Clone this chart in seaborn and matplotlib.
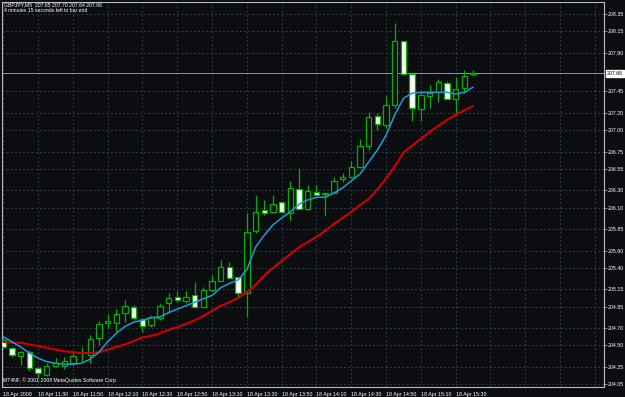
import numpy as np
import pandas as pd
import seaborn as sns
import matplotlib
matplotlib.use("Agg")
import matplotlib.pyplot as plt

# header / footer texts of the terminal window
symbol_text = "GBPJPY,M5  207.65 207.70 207.64 207.66"
timer_text = "4 minutes 15 seconds left to bar end"
copyright_text = "MT4NF, \u00a9 2001-2008 MetaQuotes Software Corp."

# M5 candles
opens = [204.56, 204.47, 204.38, 204.42, 204.24, 204.15, 204.26, 204.26, 204.29, 204.41,
         204.39, 204.59, 204.76, 204.76, 204.88, 204.94, 204.81, 204.74, 204.82, 204.99,
         205.06, 205.01, 205.08, 204.94, 205.14, 205.25, 205.41, 205.29, 205.11, 205.83,
         206.07, 206.05, 206.17, 206.04, 206.32, 206.08, 206.28, 206.26, 206.27, 206.43,
         206.46, 206.57, 206.82, 207.16, 207.06, 207.29, 208.04, 207.65, 207.25, 207.40,
         207.44, 207.55, 207.36, 207.49, 207.65]
highs = [204.59, 204.48, 204.43, 204.45, 204.25, 204.29, 204.35, 204.36, 204.41, 204.48,
         204.62, 204.78, 204.86, 204.92, 205.03, 204.97, 204.82, 204.85, 204.99, 205.11,
         205.13, 205.13, 205.24, 205.18, 205.32, 205.49, 205.47, 205.29, 206.04, 206.25,
         206.19, 206.25, 206.17, 206.41, 206.56, 206.36, 206.36, 206.27, 206.46, 206.50,
         206.64, 206.90, 207.21, 207.20, 207.40, 208.25, 208.04, 207.65, 207.44, 207.53,
         207.59, 207.57, 207.62, 207.70, 207.70]
lows = [204.46, 204.36, 204.27, 204.20, 204.12, 204.14, 204.25, 204.22, 204.28, 204.31,
        204.29, 204.50, 204.70, 204.65, 204.77, 204.79, 204.65, 204.71, 204.79, 204.88,
        205.00, 204.99, 204.93, 204.94, 205.13, 205.25, 205.28, 205.06, 204.83, 205.81,
        206.01, 206.05, 206.05, 205.96, 206.08, 206.07, 206.25, 206.00, 206.27, 206.40,
        206.46, 206.56, 206.77, 207.00, 207.03, 207.26, 207.65, 207.11, 207.11, 207.26,
        207.33, 207.36, 207.18, 207.43, 207.64]
closes = [204.48, 204.39, 204.42, 204.24, 204.18, 204.26, 204.29, 204.32, 204.38, 204.42,
          204.57, 204.75, 204.78, 204.86, 204.96, 204.82, 204.72, 204.83, 204.96, 205.05,
          205.03, 205.06, 204.94, 205.14, 205.25, 205.41, 205.28, 205.11, 205.82, 206.05,
          206.04, 206.14, 206.05, 206.33, 206.08, 206.29, 206.25, 206.27, 206.41, 206.46,
          206.57, 206.82, 207.15, 207.07, 207.29, 208.04, 207.65, 207.26, 207.41, 207.43,
          207.56, 207.36, 207.48, 207.63, 207.66]

# the two moving averages as drawn on the chart
ma_fast = [204.60, 204.54, 204.48, 204.41, 204.35, 204.31, 204.29, 204.28, 204.28, 204.29,
           204.34, 204.42, 204.54, 204.64, 204.72, 204.77, 204.79, 204.82, 204.83, 204.88,
           204.92, 204.96, 205.00, 205.04, 205.08, 205.17, 205.22, 205.26, 205.38, 205.64,
           205.78, 205.90, 205.98, 206.05, 206.14, 206.19, 206.22, 206.22, 206.27, 206.33,
           206.41, 206.49, 206.63, 206.77, 206.94, 207.18, 207.37, 207.43, 207.44, 207.44,
           207.44, 207.44, 207.42, 207.44, 207.50]
ma_slow = [204.54, 204.53, 204.53, 204.51, 204.49, 204.47, 204.45, 204.43, 204.42, 204.41,
           204.41, 204.42, 204.45, 204.48, 204.51, 204.55, 204.59, 204.61, 204.64, 204.68,
           204.71, 204.75, 204.79, 204.84, 204.90, 204.96, 205.00, 205.05, 205.12, 205.20,
           205.31, 205.40, 205.48, 205.56, 205.64, 205.70, 205.76, 205.83, 205.91, 205.98,
           206.05, 206.13, 206.20, 206.31, 206.44, 206.58, 206.74, 206.82, 206.90, 206.98,
           207.05, 207.12, 207.18, 207.23, 207.28]

time_labels = ["18 Apr 2008", "18 Apr 11:30", "18 Apr 11:50", "18 Apr 12:10", "18 Apr 12:30",
               "18 Apr 12:50", "18 Apr 13:10", "18 Apr 13:30", "18 Apr 13:50", "18 Apr 14:10",
               "18 Apr 14:30", "18 Apr 14:50", "18 Apr 15:10", "18 Apr 15:30"]
price_ticks = [208.35, 208.15, 207.90, 207.45, 207.20, 207.00, 206.75, 206.55, 206.30, 206.10,
               205.85, 205.60, 205.40, 205.15, 204.95, 204.70, 204.50, 204.25, 204.05]
last_price = 207.66
bars_per_label = 4

BG = "#0b0d10"
GREEN = "#00b000"
GRID = "#3a4a58"
FRAME = "#b8bcc0"

df = pd.DataFrame({"bar": np.arange(len(opens)), "open": opens, "high": highs,
                   "low": lows, "close": closes, "ma_fast": ma_fast, "ma_slow": ma_slow})
df["bull"] = df["close"] >= df["open"]
df["body_lo"] = df[["open", "close"]].min(axis=1)
df["body_h"] = (df["close"] - df["open"]).abs()

sns.set_theme(style="dark", rc={"axes.facecolor": BG, "figure.facecolor": BG,
                                "axes.edgecolor": FRAME, "text.color": "white",
                                "xtick.color": "white", "ytick.color": "white"})
plt.rcParams["font.family"] = ["Liberation Sans", "DejaVu Sans"]

fig = plt.figure(figsize=(6.25, 3.97), dpi=100)
ax = fig.add_axes([2 / 625, 10 / 397, 602 / 625, 385 / 397])

# candles: wicks first, bodies on top (bull = hollow, bear = white)
ax.vlines(df["bar"], df["low"], df["high"], color=GREEN, lw=0.9, zorder=2)
ax.bar(df["bar"], df["body_h"], bottom=df["body_lo"], width=0.62,
       color=np.where(df["bull"], BG, "white"), edgecolor=GREEN, linewidth=0.9, zorder=3)

sns.lineplot(data=df, x="bar", y="ma_slow", color="#d00000", lw=1.5, ax=ax, zorder=4)
sns.lineplot(data=df, x="bar", y="ma_fast", color="#1e9ad8", lw=1.1, ax=ax, zorder=5)

ax.axhline(last_price, color="#8898a8", lw=0.7, zorder=1)

n_slots = 70
ax.set_xlim(-0.15, 69.05)
ax.set_ylim(204.015, 208.49)

xt = np.arange(0, n_slots, bars_per_label)
ax.set_xticks(xt)
ax.set_xticklabels(time_labels + [""] * (len(xt) - len(time_labels)), ha="left")
ax.set_yticks(price_ticks)
ax.set_yticklabels([f"{p:.2f}" for p in price_ticks])
ax.yaxis.tick_right()
ax.tick_params(axis="both", labelsize=3.8, length=2, width=0.5, color=FRAME, pad=1)
ax.tick_params(axis="x", pad=1.5)
ax.set_xlabel("")
ax.set_ylabel("")

ax.grid(True, color=GRID, linestyle=(0, (2, 3)), lw=0.6)
ax.set_axisbelow(True)
for s in ax.spines.values():
    s.set_visible(True)
    s.set_linewidth(0.8)

# current price marker on the price scale
ax.annotate(f"{last_price:.2f}", xy=(1.0, last_price), xycoords=("axes fraction", "data"),
            xytext=(2, 0), textcoords="offset points", va="center", ha="left",
            fontsize=3.8, color="black",
            bbox=dict(boxstyle="square,pad=0.15", fc="white", ec="white"))

ax.text(0.004, 0.992, symbol_text, transform=ax.transAxes, fontsize=3.7, color="white", va="center")
ax.text(0.004, 0.977, timer_text, transform=ax.transAxes, fontsize=3.7, color="white", va="center")
ax.text(0.002, 0.01, copyright_text, transform=ax.transAxes, fontsize=3.7, color="white", va="bottom")

fig.savefig("out.png", dpi=100, facecolor=BG)
